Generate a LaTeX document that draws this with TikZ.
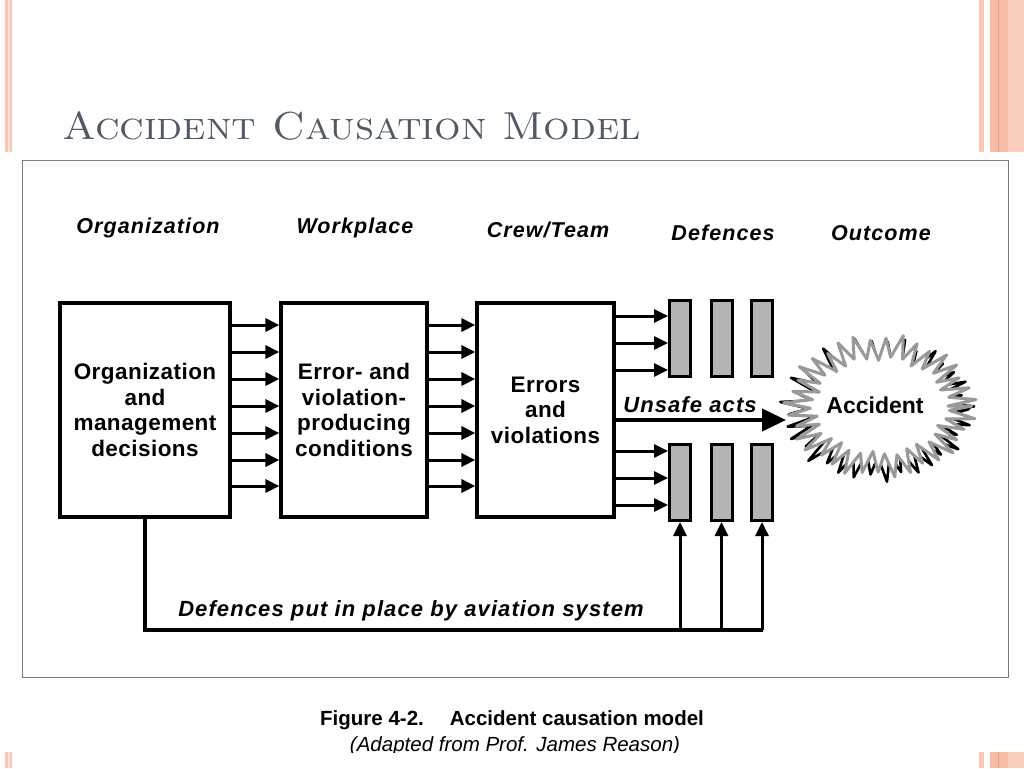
\documentclass[tikz,border=0pt]{standalone}
\usepackage{fontspec}
\newfontfamily\dsans[LetterSpace=2]{Liberation Sans}
\newfontfamily\hsans[LetterSpace=5]{Liberation Sans}
\newfontfamily\csans{Liberation Sans}
\usetikzlibrary{arrows.meta}
\definecolor{titlecol}{HTML}{505A66}
\definecolor{stripeA}{HTML}{F8C6B6}
\definecolor{stripeB}{HTML}{FBE3D6}
\definecolor{stripeC}{HTML}{FBCDBD}
\definecolor{stripeD}{HTML}{F6BCA8}
\definecolor{stripeE}{HTML}{E6A088}
\definecolor{barfill}{HTML}{B4B4B4}
\definecolor{framecol}{HTML}{7A7A7A}
\tikzset{
  box/.style={draw=black, line width=3.2pt, fill=white, inner sep=0pt, align=center,
    font=\dsans\bfseries\fontsize{22.5}{25.5}\selectfont},
  bar/.style={draw=black, line width=3pt, fill=barfill, minimum width=21pt, minimum height=76pt, inner sep=0pt},
  arr/.style={line width=3pt, -{Triangle[length=14pt,width=13pt]}},
  bigarr/.style={line width=4pt, -{Triangle[length=24pt,width=22pt]}},
  fline/.style={line width=3.4pt},
  hdr/.style={font=\hsans\bfseries\itshape\fontsize{21.5}{24}\selectfont, inner sep=0pt},
  lbl/.style={font=\hsans\bfseries\itshape\fontsize{22}{24}\selectfont, inner sep=0pt},
}
\begin{document}
\begin{tikzpicture}[x=1pt,y=-1pt]
\useasboundingbox (0,0) rectangle (1024,768);
\fill[white] (0,0) rectangle (1024,768);
% decorative stripes
\foreach \ya/\yb in {0/152,752/768}{
  \fill[stripeA] (5,\ya) rectangle (12,\yb);
  \fill[stripeB] (8,\ya) rectangle (9.5,\yb);
  \fill[stripeA] (979,\ya) rectangle (984,\yb);
  \fill[stripeC] (990,\ya) rectangle (1024,\yb);
  \fill[stripeD] (990,\ya) rectangle (1008,\yb);
  \draw[stripeE, line width=1pt] (998,\ya) -- (998,\yb);
}
% title
\node[anchor=base west, text=titlecol, inner sep=0pt, font=\rmfamily\scshape\fontsize{39}{42}\selectfont] (title) at (62,139) {\scalebox{1.07}[1]{Accident Causation Model}};
% frame
\draw[framecol, line width=1pt] (22,160) rectangle (1008,677);
% headers
\node[hdr] (h1) at (148,228) {Organization};
\node[hdr] (h2) at (355,228) {Workplace};
\node[hdr] (h3) at (548,230) {Crew/Team};
\node[hdr] (h4) at (723,233) {Defences};
\node[hdr] (h5) at (881,233) {Outcome};
% boxes
\node[box, minimum width=170pt, minimum height=214pt] (b1) at (145,410) {Organization\\and\\management\\decisions};
\node[box, minimum width=146pt, minimum height=214pt] (b2) at (354,410) {Error- and\\violation-\\producing\\conditions};
\node[box, minimum width=137pt, minimum height=214pt] (b3) at (545.5,410) {Errors\\and\\violations};
% defence bars
\node[bar] (d1) at (680,338.5) {};
\node[bar] (d2) at (721.5,338.5) {};
\node[bar] (d3) at (762,338.5) {};
\node[bar] (d4) at (680,482.5) {};
\node[bar] (d5) at (721.5,482.5) {};
\node[bar] (d6) at (762,482.5) {};
% arrows between boxes
\foreach \y in {325,352,379,406,433,460,486}{
  \draw[arr] (b1.east |- 0,\y) -- (b2.west |- 0,\y);
  \draw[arr] (b2.east |- 0,\y) -- (b3.west |- 0,\y);
}
\foreach \y in {316,343,370}{ \draw[arr] (b3.east |- 0,\y) -- (d1.west |- 0,\y); }
\foreach \y in {451,478,505}{ \draw[arr] (b3.east |- 0,\y) -- (d4.west |- 0,\y); }
% accident burst
\draw[line width=2.6pt, black, shift={(-3,3)}, line join=round]
  ({880+92},{406}) \foreach \i in {1,...,71}{ -- ({880+(mod(\i,2)==0 ? 92 : 66)*(1+0.06*sin(\i*73))*cos(\i*5.0704+3)},{406+(mod(\i,2)==0 ? 69 : 47)*(1+0.06*sin(\i*73))*sin(\i*5.0704+3)}) } -- cycle;
\filldraw[fill=white, draw=gray!80, line width=3pt, line join=round]
  ({880+92},{406}) \foreach \i in {1,...,71}{ -- ({880+(mod(\i,2)==0 ? 92 : 67)*(1+0.05*sin(\i*53))*cos(\i*5.0704)},{406+(mod(\i,2)==0 ? 69 : 48)*(1+0.05*sin(\i*53))*sin(\i*5.0704)}) } -- cycle;
\node[font=\csans\bfseries\fontsize{23}{25}\selectfont, inner sep=0pt] (acc) at (875,405) {Accident};
\coordinate (accw) at (786,420);
% unsafe acts
\draw[bigarr] (b3.east |- accw) -- (accw);
\node[lbl] (ua) at (690,405) {Unsafe acts};
% feedback line
\coordinate (fb) at (763,630);
\draw[fline] (b1.south) |- (fb);
\foreach \d in {d4,d5,d6}{ \draw[arr] (\d.south |- fb) -- (\d.south); }
\node[lbl] (fbl) at (411,611) {Defences put in place by aviation system};
% caption
\begin{scope}
\clip (0,0) rectangle (1024,752);
\node[font=\csans\bfseries\fontsize{20.5}{24}\selectfont, inner sep=0pt, anchor=base west] (cap1) at (320,725) {Figure 4-2.\hspace{26pt}Accident causation model};
\node[font=\csans\itshape\fontsize{20.5}{22}\selectfont, inner sep=0pt, anchor=base] (cap2) at (515,751) {(Adapted from Prof. James Reason)};
\end{scope}
\end{tikzpicture}
\end{document}
